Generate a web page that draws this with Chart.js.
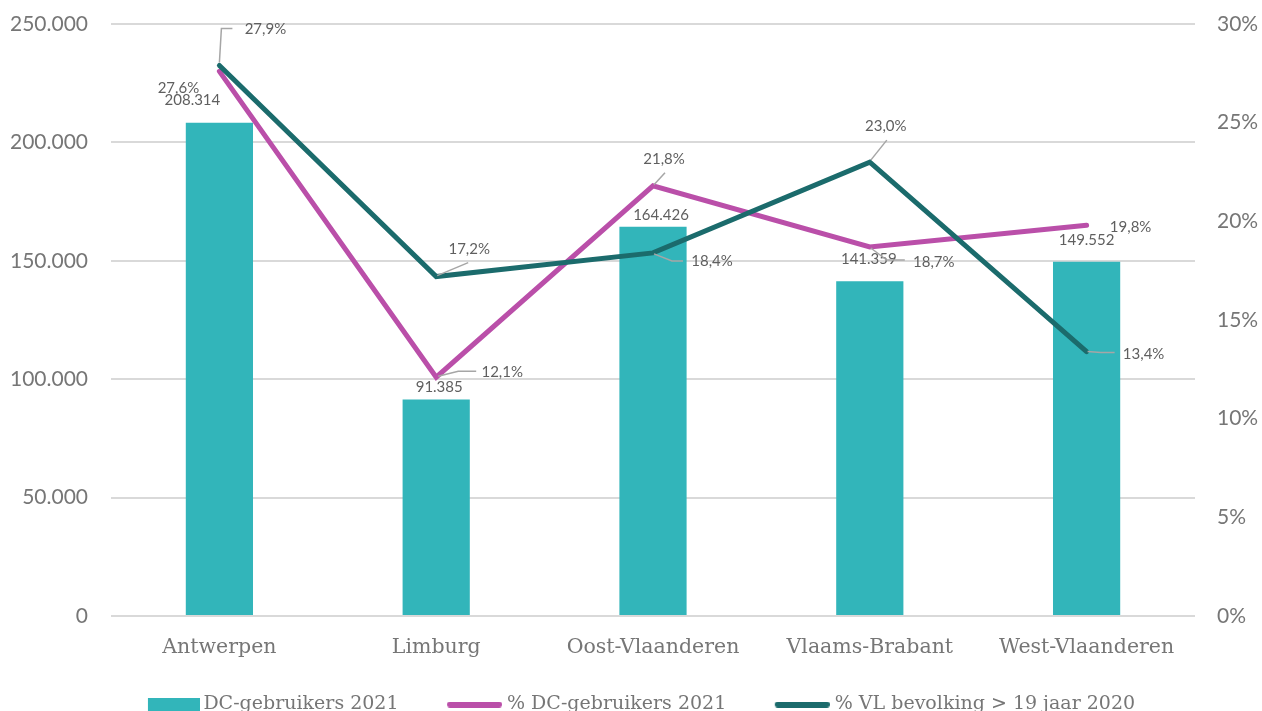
<!DOCTYPE html>
<html>
<head>
<meta charset="utf-8">
<script src="https://cdn.jsdelivr.net/npm/chart.js@4"></script>
<style>
  html, body { margin: 0; padding: 0; background: #fff; overflow: hidden; }
  #wrap { width: 1262px; height: 724px; position: relative; }
</style>
</head>
<body>
<div id="wrap"><canvas id="dcChart"></canvas></div>
<script>
// data
const provinces = ["Antwerpen", "Limburg", "Oost-Vlaanderen", "Vlaams-Brabant", "West-Vlaanderen"];
const dcUsers = [208314, 91385, 164426, 141359, 149552];
const dcUsersPct = [27.6, 12.1, 21.8, 18.7, 19.8];
const popPct = [27.9, 17.2, 18.4, 23.0, 13.4];
const leftTicks = [0, 50000, 100000, 150000, 200000, 250000];
const rightTicks = [0, 5, 10, 15, 20, 25, 30];

// label placement (pixel offsets from the point) + leader lines
const barLabelPos = [[-27, -23], [3, -12], [8, -11], [-1, -22], [0, -22]];
const dcPctLabelPos = [[-41, 17], [66, -5], [11, -27], [64, 15], [44, 2]];
const dcPctLeaders = [null, [[2, -1], [22, -6], [40, -6]], [[1, -1], [12, -13]], [[1, 1], [17, 13], [35, 13]], null];
const popLabelPos = [[46, -36], [33, -27], [59, 8], [16, -36], [57, 3]];
const popLeaders = [[[0, -3], [2, -37], [13, -37]], [[1, -1], [32, -14]], [[1, 1], [19, 8], [30, 8]], [[1, -2], [17, -22]], [[1, 0], [14, 1], [28, 1]]];

const TEAL = "#32B5BA";
const MAGENTA = "#BA4FA9";
const DARK = "#1B6B6C";
const GREY = "#767676";

const fmtThousands = v => String(v).replace(/\B(?=(\d{3})+(?!\d))/g, ".");
const fmtPct = v => v.toFixed(1).replace(".", ",") + "%";

// legend marks: drawn at the right side of a wider transparent canvas,
// so the gap between legend items comes out like in the original
function swatch(totalW, w, h, color, round) {
  const c = document.createElement("canvas");
  c.width = totalW; c.height = h;
  const g = c.getContext("2d");
  g.fillStyle = color;
  if (round) {
    g.beginPath();
    g.roundRect(totalW - w, 0, w, h, h / 2);
    g.fill();
  } else {
    g.fillRect(totalW - w, 0, w, h);
  }
  return c;
}
const legendMarks = [
  swatch(79, 52, 13, TEAL, false),
  swatch(76, 55, 6, MAGENTA, true),
  swatch(76, 55, 6, DARK, true)
];

const labelSpecs = [
  { pos: barLabelPos, leaders: [], fmt: fmtThousands },
  { pos: dcPctLabelPos, leaders: dcPctLeaders, fmt: fmtPct },
  { pos: popLabelPos, leaders: popLeaders, fmt: fmtPct }
];

const valueLabels = {
  id: "valueLabels",
  afterDatasetsDraw(chart) {
    const ctx = chart.ctx;
    ctx.save();
    chart.data.datasets.forEach((ds, di) => {
      const meta = chart.getDatasetMeta(di);
      const spec = labelSpecs[di];
      meta.data.forEach((el, i) => {
        const lead = spec.leaders[i];
        if (lead) {
          ctx.beginPath();
          ctx.strokeStyle = "#A6A6A6";
          ctx.lineWidth = 1.5;
          lead.forEach(([lx, ly], k) => {
            if (k === 0) ctx.moveTo(el.x + lx, el.y + ly);
            else ctx.lineTo(el.x + lx, el.y + ly);
          });
          ctx.stroke();
        }
        ctx.font = "15px Lato";
        ctx.fillStyle = "#5F5F5F";
        ctx.textAlign = "center";
        ctx.textBaseline = "middle";
        const [dx, dy] = spec.pos[i];
        ctx.fillText(spec.fmt(ds.data[i]), el.x + dx, el.y + dy);
      });
    });
    ctx.restore();
  }
};

// fixed axis widths; drop the extra top/bottom padding chart.js adds for tick labels
const fitYAxis = width => s => {
  s.width = width;
  s.paddingTop = 0;
  s.paddingBottom = 0;
};

new Chart(document.getElementById("dcChart"), {
  data: {
    labels: provinces,
    datasets: [
      {
        type: "bar",
        label: "DC-gebruikers 2021",
        data: dcUsers,
        backgroundColor: TEAL,
        yAxisID: "y",
        order: 2,
        barPercentage: 1,
        categoryPercentage: 0.31
      },
      {
        type: "line",
        label: "% DC-gebruikers 2021",
        data: dcUsersPct,
        borderColor: MAGENTA,
        borderWidth: 5,
        borderCapStyle: "round",
        pointRadius: 0,
        tension: 0,
        yAxisID: "y1",
        order: 1
      },
      {
        type: "line",
        label: "% VL bevolking > 19 jaar 2020",
        data: popPct,
        borderColor: DARK,
        borderWidth: 5,
        borderCapStyle: "round",
        pointRadius: 0,
        tension: 0,
        yAxisID: "y1",
        order: 0
      }
    ]
  },
  options: {
    responsive: true,
    maintainAspectRatio: false,
    animation: false,
    layout: { padding: { top: 24, left: 0, right: 0, bottom: 0 } },
    scales: {
      x: {
        grid: { display: false, drawTicks: false },
        border: { display: false },
        ticks: { color: GREY, font: { family: "DejaVu Serif", size: 20.5 }, padding: 19, maxRotation: 0, autoSkip: false },
        afterFit: s => { s.height = 47; }
      },
      y: {
        position: "left",
        min: 0,
        max: 250000,
        afterBuildTicks: s => { s.ticks = leftTicks.map(v => ({ value: v })); },
        grid: { color: "#D9D9D9", lineWidth: 2, drawTicks: false },
        border: { display: false },
        ticks: { color: GREY, font: { family: "Lato", size: 21 }, padding: 23, callback: v => fmtThousands(v) },
        afterFit: fitYAxis(111)
      },
      y1: {
        position: "right",
        min: 0,
        max: 30,
        afterBuildTicks: s => { s.ticks = rightTicks.map(v => ({ value: v })); },
        grid: { display: false, drawTicks: false },
        border: { display: false },
        ticks: { color: GREY, font: { family: "Lato", size: 21 }, padding: 22, callback: v => v + "%" },
        afterFit: fitYAxis(67)
      }
    },
    plugins: {
      tooltip: { enabled: false },
      legend: {
        position: "bottom",
        labels: {
          color: GREY,
          font: { family: "DejaVu Serif", size: 19 },
          usePointStyle: true,
          pointStyleWidth: 67,
          padding: 32,
          generateLabels: chart => chart.data.datasets.map((ds, i) => ({
            text: ds.label,
            pointStyle: legendMarks[i],
            fillStyle: "rgba(0,0,0,0)",
            strokeStyle: "rgba(0,0,0,0)",
            lineWidth: 0,
            fontColor: GREY,
            hidden: false,
            datasetIndex: i
          }))
        }
      }
    }
  },
  plugins: [valueLabels]
});
</script>
</body>
</html>
